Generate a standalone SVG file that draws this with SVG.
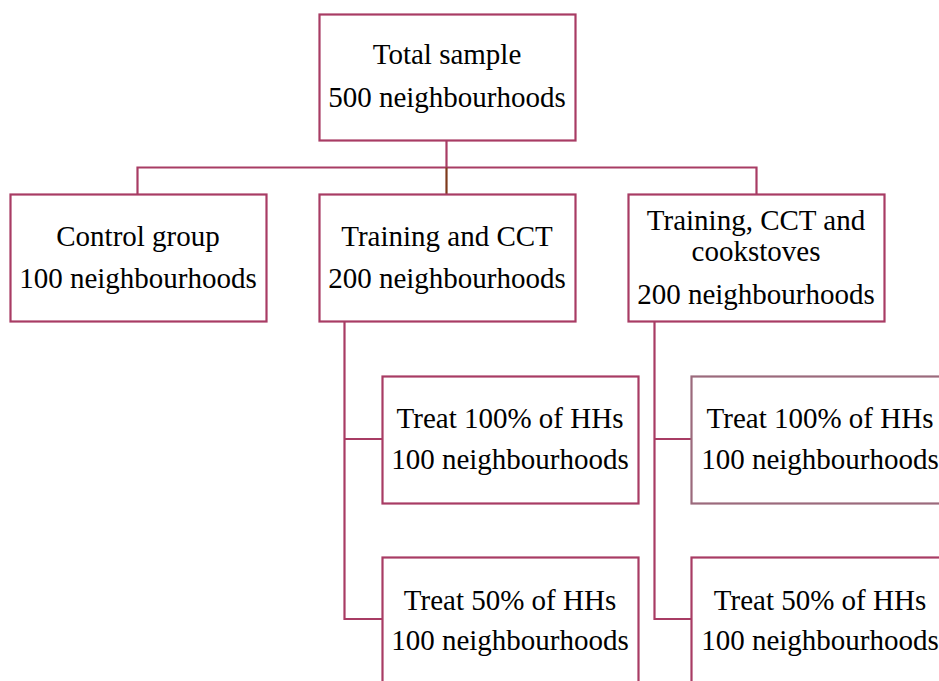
<svg xmlns="http://www.w3.org/2000/svg" width="939" height="681" viewBox="0 0 939 681">
  <style>
    .box { fill: #ffffff; stroke: #a83c64; stroke-width: 2.2; }
    .box.muted { stroke: #9b6a7c; }
    .link { fill: none; stroke: #a83c64; stroke-width: 2.2; }
    .link.trunk { stroke: #7e3a1c; }
    text { font-family: "Liberation Serif", "Times New Roman", serif; font-size: 29px; fill: #000000; text-anchor: middle; }
  </style>
  <rect width="939" height="681" fill="#ffffff"/>

  <!-- connectors -->
  <g id="connectors">
    <path class="link" d="M446.5 141 V167.5 M137.5 194 V167.5 H756.5 V194"/>
    <path class="link trunk" d="M446.5 167.5 V194"/>
    <path class="link" d="M344.5 322 V619 H382 M344.5 439 H382"/>
    <path class="link" d="M654.5 322 V619 H691 M654.5 439 H691"/>
  </g>

  <g id="total">
    <rect class="box" x="319.5" y="14.5" width="256" height="126"/>
    <text x="447" y="64">Total sample</text>
    <text x="447" y="107">500 neighbourhoods</text>
  </g>

  <g id="control">
    <rect class="box" x="10.5" y="194.5" width="256" height="127"/>
    <text x="138" y="246">Control group</text>
    <text x="138" y="288">100 neighbourhoods</text>
  </g>

  <g id="training-cct">
    <rect class="box" x="319.5" y="194.5" width="256" height="127"/>
    <text x="447" y="246">Training and CCT</text>
    <text x="447" y="288">200 neighbourhoods</text>
  </g>

  <g id="training-cct-cookstoves">
    <rect class="box" x="628.5" y="194.5" width="256" height="127"/>
    <text x="756" y="230">Training, CCT and</text>
    <text x="756" y="261">cookstoves</text>
    <text x="756" y="304">200 neighbourhoods</text>
  </g>

  <g id="cct-treat-100">
    <rect class="box" x="382.5" y="376.5" width="256" height="127"/>
    <text x="510" y="428">Treat 100% of HHs</text>
    <text x="510" y="469">100 neighbourhoods</text>
  </g>

  <g id="cct-treat-50">
    <rect class="box" x="382.5" y="557.5" width="256" height="127"/>
    <text x="510" y="610">Treat 50% of HHs</text>
    <text x="510" y="650">100 neighbourhoods</text>
  </g>

  <g id="stoves-treat-100">
    <rect class="box muted" x="691.5" y="376.5" width="257" height="127"/>
    <text x="820" y="428">Treat 100% of HHs</text>
    <text x="820" y="469">100 neighbourhoods</text>
  </g>

  <g id="stoves-treat-50">
    <rect class="box" x="691.5" y="557.5" width="257" height="127"/>
    <text x="820" y="610">Treat 50% of HHs</text>
    <text x="820" y="650">100 neighbourhoods</text>
  </g>
</svg>
